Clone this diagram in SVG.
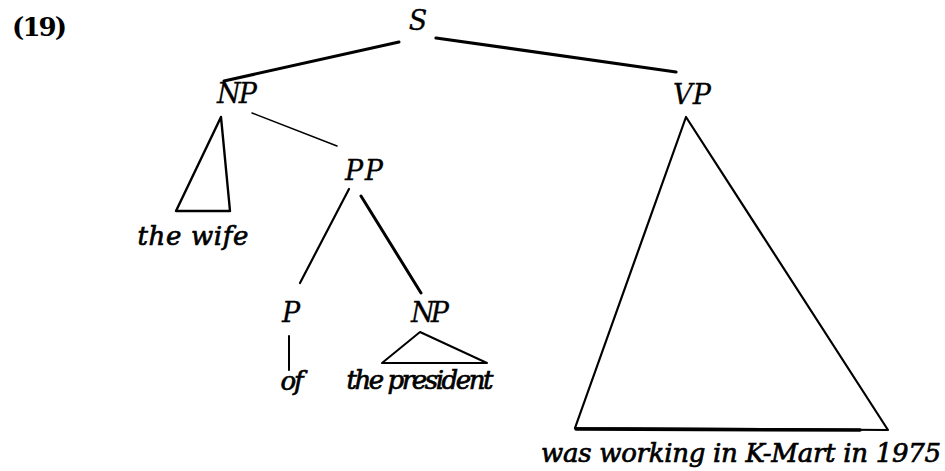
<svg xmlns="http://www.w3.org/2000/svg" width="945" height="471" viewBox="0 0 945 471">
<style>
text{font-family:"DejaVu Serif","Liberation Serif",serif;font-style:italic;fill:#000;text-anchor:middle}
.lbl{font-size:27px;stroke:#000;stroke-width:0.3}
.leaf{font-size:26px;stroke:#000;stroke-width:0.7}
.num{font-family:"DejaVu Serif","Liberation Serif",serif;font-style:normal;font-weight:bold;font-size:26px;text-anchor:start}
.e{stroke:#000;fill:none;stroke-linecap:round;stroke-linejoin:round}
</style>
<rect width="945" height="471" fill="#fff"/>
<text class="num" x="12" y="36" textLength="55">(19)</text>
<g id="connectors">
<line class="e" x1="399" y1="42" x2="224" y2="81" stroke-width="3"/>
<line class="e" x1="436" y1="38" x2="676" y2="72" stroke-width="3.2"/>
<line class="e" x1="252" y1="113" x2="337" y2="146" stroke-width="1.5"/>
<line class="e" x1="349" y1="189" x2="300" y2="283" stroke-width="2.2"/>
<line class="e" x1="361" y1="196" x2="421" y2="293" stroke-width="3"/>
<line class="e" x1="289" y1="336" x2="289" y2="370" stroke-width="2"/>
</g>
<g id="S"><text class="lbl" x="418" y="30">S</text></g>
<g id="NP1"><text class="lbl" x="237" y="103" textLength="40">NP</text>
<polygon class="e" points="221,117 176,211 230,211" stroke-width="2.4"/></g>
<g id="thewife"><text class="leaf" x="193" y="245" textLength="111">the wife</text></g>
<g id="VP"><text class="lbl" x="692" y="104" textLength="38">VP</text>
<polygon class="e" points="686,117 575,428 888,430" stroke-width="2.2"/>
<line class="e" x1="576" y1="429" x2="860" y2="430" stroke-width="3.5"/></g>
<g id="phrase"><text class="leaf" x="741" y="462" textLength="400">was working in K-Mart in 1975</text></g>
<g id="PP"><text class="lbl" x="364" y="180" textLength="38">PP</text></g>
<g id="P"><text class="lbl" x="291" y="322">P</text></g>
<g id="of"><text class="leaf" x="292" y="390" textLength="23">of</text></g>
<g id="NP2"><text class="lbl" x="430" y="322" textLength="38">NP</text>
<polygon class="e" points="420,332 382,363 487,363" stroke-width="2"/></g>
<g id="thepresident"><text class="leaf" x="420" y="389" textLength="147">the president</text></g>
</svg>
